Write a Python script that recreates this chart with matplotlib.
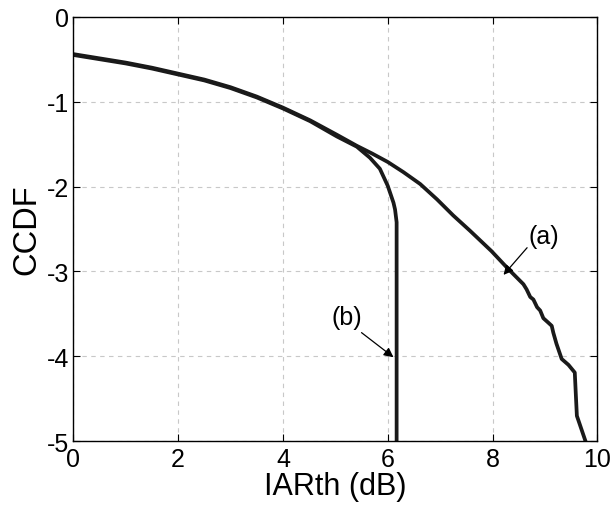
import matplotlib
matplotlib.use("Agg")
import matplotlib.pyplot as plt

plt.rcParams['font.family'] = ['Liberation Sans', 'DejaVu Sans']
plt.rcParams['axes.unicode_minus'] = False

# curve (a): CCDF without clipping
iar_a = [0.0, 0.5, 1.0, 1.5, 2.0, 2.5, 3.0, 3.5, 4.0, 4.52, 5.03, 5.41, 5.7,
         6.0, 6.3, 6.62, 6.94, 7.25, 7.57, 7.98, 8.30, 8.59, 8.65, 8.72, 8.78,
         8.85, 8.91, 8.97, 9.06, 9.13, 9.16, 9.22, 9.32, 9.45, 9.57, 9.59,
         9.61, 9.77]
ccdf_a = [-0.44, -0.49, -0.54, -0.60, -0.67, -0.74, -0.83, -0.94, -1.07, -1.22,
          -1.39, -1.52, -1.61, -1.71, -1.83, -1.97, -2.15, -2.34, -2.52, -2.76,
          -2.97, -3.15, -3.21, -3.30, -3.33, -3.42, -3.46, -3.55, -3.60, -3.64,
          -3.72, -3.85, -4.03, -4.10, -4.19, -4.45, -4.70, -4.99]

# curve (b): CCDF with clipping
iar_b = [0.0, 0.5, 1.0, 1.5, 2.0, 2.5, 3.0, 3.5, 4.0, 4.52, 5.03, 5.41, 5.66,
         5.85, 6.0, 6.11, 6.14, 6.17, 6.17]
ccdf_b = [-0.45, -0.50, -0.55, -0.61, -0.68, -0.75, -0.84, -0.95, -1.08, -1.23,
          -1.41, -1.53, -1.66, -1.79, -1.99, -2.19, -2.27, -2.42, -5.0]

xticks = [0, 2, 4, 6, 8, 10]
yticks = [0, -1, -2, -3, -4, -5]

fig = plt.figure(figsize=(6.11, 5.10), dpi=100)
ax = fig.add_axes([0.12, 0.1327, 0.8576, 0.8325])

ax.plot(iar_a, ccdf_a, color='#1a1a1a', lw=2.7, solid_joinstyle='round')
ax.plot(iar_b, ccdf_b, color='#1a1a1a', lw=2.7, solid_joinstyle='round')

ax.set_xlim(0, 10)
ax.set_ylim(-5, 0)
ax.set_xticks(xticks)
ax.set_yticks(yticks)
ax.tick_params(direction='in', labelsize=18, length=5, top=True, right=True)
ax.tick_params(axis='x', pad=4)
ax.tick_params(axis='y', pad=3)
ax.grid(True, color='#c8c8c8', linestyle=(0, (4, 4)), lw=0.8)
for s in ax.spines.values():
    s.set_linewidth(1.0)

ax.set_xlabel('IARth (dB)', fontsize=22, labelpad=0)
ax.set_ylabel('CCDF', fontsize=23.5, labelpad=3)

arrow = dict(arrowstyle='-|>', color='black', lw=0.9, mutation_scale=14,
             shrinkA=0, shrinkB=0)
ax.text(8.98, -2.58, '(a)', fontsize=18, ha='center', va='center')
ax.annotate('', xy=(8.21, -3.04), xytext=(8.66, -2.72), arrowprops=arrow)
ax.text(5.22, -3.54, '(b)', fontsize=18, ha='center', va='center')
ax.annotate('', xy=(6.11, -4.01), xytext=(5.50, -3.72), arrowprops=arrow)

fig.savefig('out.png', dpi=100)
